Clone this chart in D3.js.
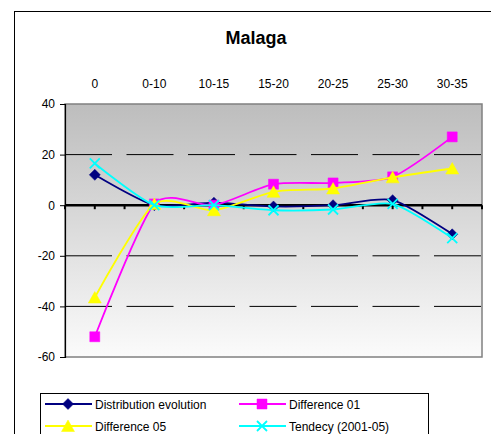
<!DOCTYPE html>
<html>
<head>
<meta charset="utf-8">
<script src="https://cdn.jsdelivr.net/npm/d3@7"></script>
<style>
  body { margin: 0; background: #fff; }
  text { font-family: Arial, "Liberation Sans", sans-serif; }
</style>
</head>
<body>
<div class="container"></div>
<script>
var categories = ['0', '0-10', '10-15', '15-20', '20-25', '25-30', '30-35'];
var distribution = [12, 0, 1, -0.5, 0, 2, -11.5];
var diff01 = [-52, 0.5, 0, 8.3, 8.8, 11.2, 27];
var diff05 = [-36.5, 0.5, -2, 5.3, 6.6, 11, 14.5];
var tendency = [16.5, 0, 0, -2, -1.7, 0.5, -13];
var yTicks = [40, 20, 0, -20, -40, -60];

var series = [
  {name: 'Distribution evolution', values: distribution, color: '#000080', marker: 'diamond'},
  {name: 'Difference 01', values: diff01, color: '#ff00ff', marker: 'square'},
  {name: 'Difference 05', values: diff05, color: '#ffff00', marker: 'triangle'},
  {name: 'Tendecy (2001-05)', values: tendency, color: '#00ffff', marker: 'cross'}
];

const WIDTH = 491;
const HEIGHT = 434;
const LEFT = 65, RIGHT = 482, TOP = 104, BOTTOM = 357;

var translate = (x, y) => `translate(${x},${y})`;

var xScale = d3.scaleBand().domain(categories).range([LEFT, RIGHT]);
var yScale = d3.scaleLinear().domain([-60, 40]).range([BOTTOM, TOP]);
var xMid = c => xScale(c) + xScale.bandwidth() / 2;

var svg = d3.select('.container').append('svg')
  .attr('width', WIDTH)
  .attr('height', HEIGHT);

// outer chart frame
svg.append('rect')
  .attr('x', 14.5).attr('y', 11.5)
  .attr('width', 520).attr('height', 460)
  .attr('fill', '#fff').attr('stroke', '#000').attr('stroke-width', 1);

svg.append('text')
  .attr('x', 256).attr('y', 44)
  .attr('text-anchor', 'middle')
  .style('font-size', '18px').style('font-weight', 'bold')
  .text('Malaga');

// plot background gradient
var grad = svg.append('defs').append('linearGradient')
  .attr('id', 'bg').attr('x1', 0).attr('y1', 0).attr('x2', 0).attr('y2', 1);
grad.append('stop').attr('offset', '0%').attr('stop-color', '#bdbdbd');
grad.append('stop').attr('offset', '100%').attr('stop-color', '#fbfbfb');

svg.append('rect')
  .attr('x', LEFT).attr('y', TOP)
  .attr('width', RIGHT - LEFT).attr('height', BOTTOM - TOP)
  .attr('fill', 'url(#bg)').attr('stroke', '#808080').attr('stroke-width', 1.5);

// dashed gridlines
svg.append('g').selectAll('line')
  .data(yTicks.filter(d => d !== 0 && d !== 40 && d !== -60))
  .enter().append('line')
  .attr('x1', LEFT).attr('x2', RIGHT)
  .attr('y1', d => yScale(d)).attr('y2', d => yScale(d))
  .attr('stroke', '#000').attr('stroke-width', 1)
  .attr('stroke-dasharray', '47,14.5');

// y axis
var yAxis = d3.axisLeft(yScale).tickValues(yTicks).tickSize(5).tickPadding(5).tickFormat(d => String(d));
var gy = svg.append('g').attr('transform', translate(LEFT, 0)).call(yAxis);
gy.select('.domain').attr('stroke', '#000').attr('stroke-width', 1.2);
gy.selectAll('text').style('font-size', '12px').attr('fill', '#000');

// category labels on top
svg.append('g').selectAll('text')
  .data(categories)
  .enter().append('text')
  .attr('x', xMid).attr('y', 88)
  .attr('text-anchor', 'middle')
  .style('font-size', '12px')
  .text(d => d);

// zero axis with ticks at band edges and centres
var tickXs = [];
categories.forEach(c => { tickXs.push(xScale(c)); tickXs.push(xMid(c)); });
tickXs.push(RIGHT);
svg.append('g').selectAll('line')
  .data(tickXs)
  .enter().append('line')
  .attr('x1', d => d).attr('x2', d => d)
  .attr('y1', yScale(0)).attr('y2', yScale(0) + 4)
  .attr('stroke', '#000').attr('stroke-width', 2);
svg.append('line')
  .attr('x1', LEFT).attr('x2', RIGHT)
  .attr('y1', yScale(0)).attr('y2', yScale(0))
  .attr('stroke', '#000').attr('stroke-width', 2.5);

var markerPath = function (type) {
  if (type === 'diamond') return 'M0,-5.5L5.5,0L0,5.5L-5.5,0Z';
  if (type === 'square') return 'M-5,-5H5V5H-5Z';
  if (type === 'triangle') return 'M0,-6L6.5,5.5H-6.5Z';
  return 'M-5,-5L5,5M-5,5L5,-5';
};

var drawMarker = function (g, type, color, x, y) {
  var p = g.append('path')
    .attr('d', markerPath(type))
    .attr('transform', translate(x, y));
  if (type === 'cross') p.attr('fill', 'none').attr('stroke', color).attr('stroke-width', 1.8);
  else p.attr('fill', color).attr('stroke', color).attr('stroke-width', 0.5);
};

var line = d3.line()
  .x((d, i) => xMid(categories[i]))
  .y(d => yScale(d))
  .curve(d3.curveCardinal.tension(0.3));

series.forEach(function (s) {
  var g = svg.append('g');
  g.append('path')
    .attr('d', line(s.values))
    .attr('fill', 'none').attr('stroke', s.color).attr('stroke-width', 1.8);
  s.values.forEach((v, i) => drawMarker(g, s.marker, s.color, xMid(categories[i]), yScale(v)));
});

// legend
var legend = svg.append('g');
legend.append('rect')
  .attr('x', 40.5).attr('y', 393.5)
  .attr('width', 388).attr('height', 60)
  .attr('fill', '#fff').attr('stroke', '#000').attr('stroke-width', 1);

var legendPos = [[45, 404], [239, 404], [45, 426], [239, 426]];
series.forEach(function (s, i) {
  var lx = legendPos[i][0], ly = legendPos[i][1];
  legend.append('line')
    .attr('x1', lx).attr('x2', lx + 47)
    .attr('y1', ly).attr('y2', ly)
    .attr('stroke', s.color).attr('stroke-width', 1.8);
  drawMarker(legend, s.marker, s.color, lx + 23, ly);
  legend.append('text')
    .attr('x', lx + 50).attr('y', ly + 4.5)
    .style('font-size', '12px')
    .text(s.name);
});
</script>
</body>
</html>
